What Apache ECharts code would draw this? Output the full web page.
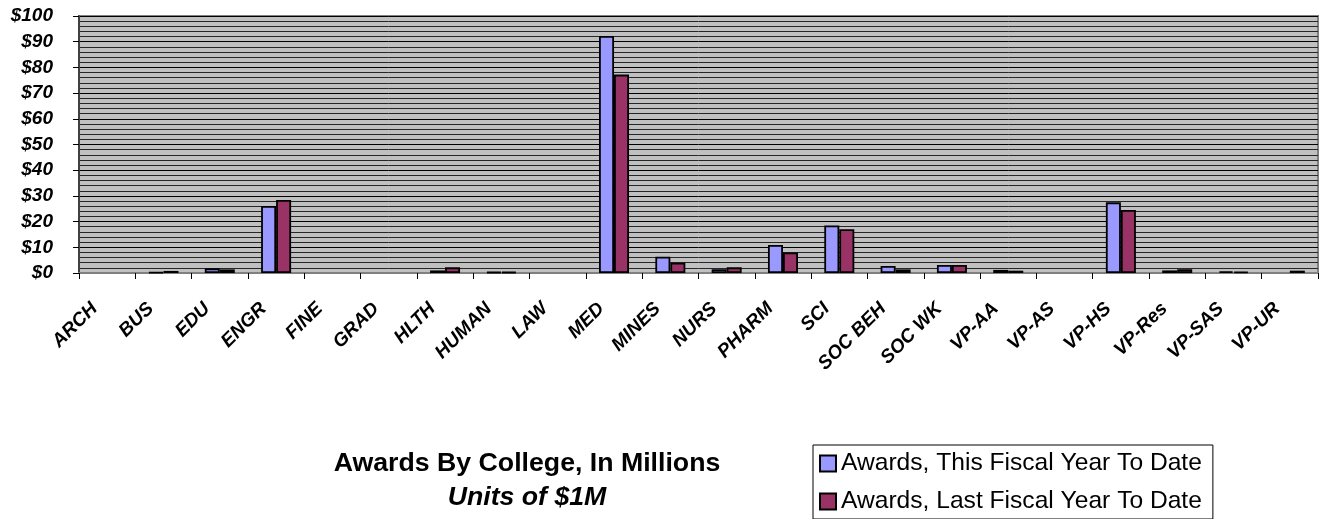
<!DOCTYPE html>
<html>
<head>
<meta charset="utf-8">
<script src="https://cdn.jsdelivr.net/npm/echarts@6/dist/echarts.min.js"></script>
<style>
html,body{margin:0;padding:0;background:#fff;}
#chart{width:1323px;height:519px;}
</style>
</head>
<body>
<div id="chart"></div>
<script>
var categories = ['ARCH','BUS','EDU','ENGR','FINE','GRAD','HLTH','HUMAN','LAW','MED','MINES','NURS','PHARM','SCI','SOC BEH','SOC WK','VP-AA','VP-AS','VP-HS','VP-Res','VP-SAS','VP-UR'];
var thisYear = [0, 0.3, 1.8, 26.1, 0, 0, 1.0, 0.4, 0, 92.2, 6.3, 1.5, 10.9, 18.5, 2.7, 3.1, 1.2, 0, 27.5, 1.0, 0.7, 0];
var lastYear = [0, 0.8, 1.4, 28.4, 0, 0, 2.2, 0.4, 0, 77.2, 4.0, 2.2, 8.0, 17.0, 1.4, 3.1, 0.9, 0, 24.5, 1.5, 0.5, 0.9];
var seriesNames = ['Awards, This Fiscal Year To Date', 'Awards, Last Fiscal Year To Date'];
var yTicks = [0, 10, 20, 30, 40, 50, 60, 70, 80, 90, 100];
var titleText = 'Awards By College, In Millions';
var subtitleText = 'Units of $1M';

var FONT = "'Liberation Sans', Arial, Helvetica, sans-serif";
var chart = echarts.init(document.getElementById('chart'), null, {renderer: 'canvas'});
function nz(arr){ return arr.map(function(v){ return v === 0 ? null : v; }); }
var option = {
  animation: false,
  backgroundColor: '#ffffff',
  grid: {
    left: 79, right: 5, top: 16, bottom: 246,
    show: true, backgroundColor: '#c0c0c0', borderColor: '#808080', borderWidth: 2
  },
  xAxis: {
    type: 'category',
    data: categories,
    axisLine: {show: true, lineStyle: {color: '#808080', width: 2}},
    axisTick: {show: true, length: 6, lineStyle: {color: '#000', width: 1}},
    axisLabel: {
      rotate: 45, interval: 0, margin: 20,
      fontFamily: FONT, fontSize: 19, fontWeight: 'bold', fontStyle: 'italic', color: '#000',
      padding: [0, 18, 0, 0]
    },
    splitLine: {show: false}
  },
  yAxis: {
    type: 'value',
    min: yTicks[0], max: yTicks[yTicks.length - 1], interval: 10,
    axisLine: {show: true, lineStyle: {color: '#404040', width: 2}},
    axisTick: {show: true, length: 6, inside: false, lineStyle: {color: '#000', width: 1}},
    axisLabel: {
      margin: 26,
      fontFamily: FONT, fontSize: 19, fontWeight: 'bold', fontStyle: 'italic', color: '#000',
      formatter: function(v){ return '$' + v; }
    },
    splitLine: {show: true, lineStyle: {color: '#000', width: 1}},
    minorTick: {show: false, splitNumber: 5},
    minorSplitLine: {show: true, lineStyle: {color: '#262626', width: 1}}
  },
  legend: {
    orient: 'vertical',
    left: 813, top: 445, height: 200,
    padding: [6, 11, 5, 6],
    itemGap: 13,
    itemWidth: 16, itemHeight: 16,
    borderColor: '#000', borderWidth: 1,
    backgroundColor: '#fff',
    icon: 'rect',
    itemStyle: {borderColor: '#000', borderWidth: 2},
    textStyle: {fontFamily: FONT, fontSize: 24.6, color: '#000', lineHeight: 24},
    data: seriesNames
  },
  graphic: [
    {type: 'text', x: 527, y: 464, style: {text: titleText, align: 'center', verticalAlign: 'middle', font: "bold 26.7px 'Liberation Sans', Arial, sans-serif", fill: '#000'}},
    {type: 'text', x: 527, y: 498, style: {text: subtitleText, align: 'center', verticalAlign: 'middle', font: "italic bold 26.7px 'Liberation Sans', Arial, sans-serif", fill: '#000'}}
  ],
  series: [
    {
      name: seriesNames[0], type: 'bar', data: nz(thisYear),
      barWidth: 15, barGap: '0%',
      itemStyle: {color: '#9999ff', borderColor: '#000', borderWidth: 1.8}
    },
    {
      name: seriesNames[1], type: 'bar', data: nz(lastYear),
      barWidth: 15, barGap: '0%',
      itemStyle: {color: '#993366', borderColor: '#000', borderWidth: 1.8}
    }
  ]
};
chart.setOption(option);
</script>
</body>
</html>
